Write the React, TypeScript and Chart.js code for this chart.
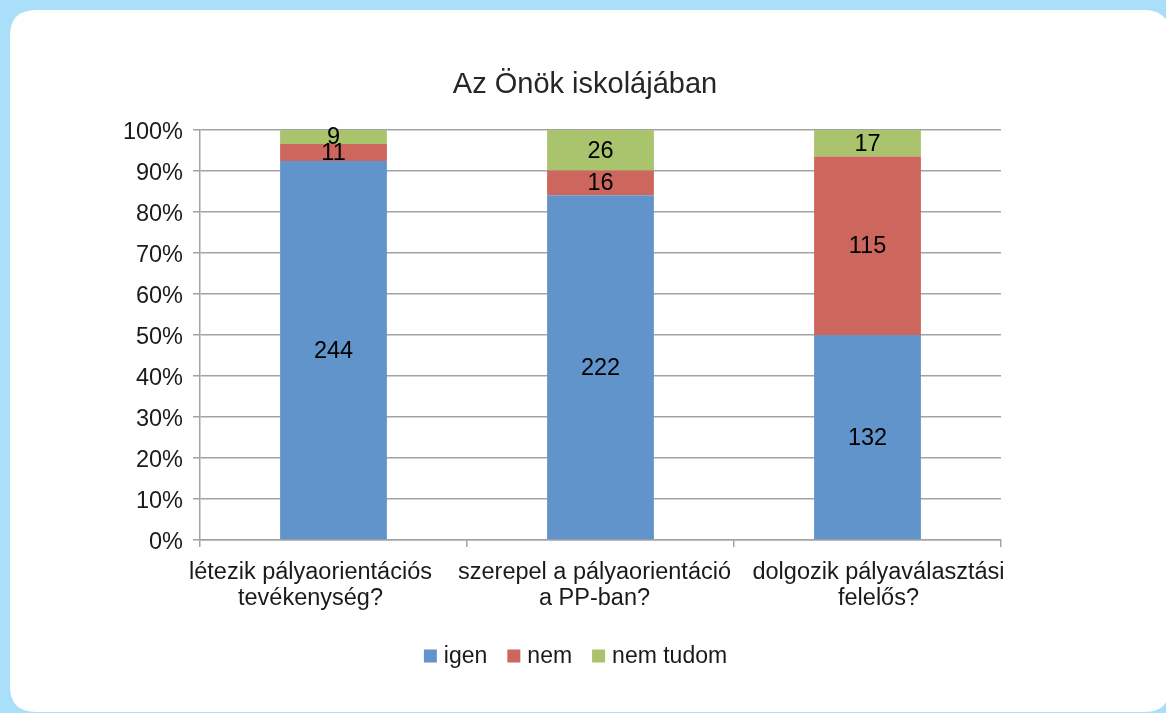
import React, { useEffect, useRef } from "react";
import { Chart, registerables } from "chart.js";

Chart.register(...registerables);

const title = "Az Önök iskolájában";
const categories: string[][] = [
  ["létezik pályaorientációs", "tevékenység?"],
  ["szerepel a pályaorientáció", "a PP-ban?"],
  ["dolgozik pályaválasztási", "felelős?"],
];
const seriesNames = ["igen", "nem", "nem tudom"];
const igen = [244, 222, 132];
const nem = [11, 16, 115];
const nemTudom = [9, 26, 17];
const seriesColors = ["#6194cb", "#cd675d", "#a9c46c"];
const yTickValues = [0, 10, 20, 30, 40, 50, 60, 70, 80, 90, 100];

const FONT = "'Liberation Sans', Arial, sans-serif";
const TEXT = "#1a1a1a";

const W = 1166;
const H = 713;

export default function App() {
  const ref = useRef<HTMLCanvasElement | null>(null);

  useEffect(() => {
    const canvas = ref.current;
    if (!canvas) return;
    const counts = [igen, nem, nemTudom];
    const totals = igen.map((_, i) => igen[i] + nem[i] + nemTudom[i]);
    const datasets = counts.map((arr, s) => ({
      label: seriesNames[s],
      data: arr.map((v, i) => (v / totals[i]) * 100),
      counts: arr,
      backgroundColor: seriesColors[s],
      borderWidth: 0,
      barPercentage: 0.4,
      categoryPercentage: 1,
    }));

    const bgPlugin = {
      id: "bgPanel",
      beforeDraw(chart: any) {
        const ctx = chart.ctx;
        ctx.save();
        ctx.fillStyle = "#a9dff9";
        ctx.fillRect(0, 0, W, H);
        ctx.fillStyle = "#ffffff";
        const x = 10, y = 10, w = 1170 - 10, h = 712 - 10, r = 26;
        ctx.beginPath();
        ctx.moveTo(x + r, y);
        ctx.lineTo(x + w - r, y);
        ctx.quadraticCurveTo(x + w, y, x + w, y + r);
        ctx.lineTo(x + w, y + h - r);
        ctx.quadraticCurveTo(x + w, y + h, x + w - r, y + h);
        ctx.lineTo(x + r, y + h);
        ctx.quadraticCurveTo(x, y + h, x, y + h - r);
        ctx.lineTo(x, y + r);
        ctx.quadraticCurveTo(x, y, x + r, y);
        ctx.closePath();
        ctx.fill();
        // title
        ctx.fillStyle = "#262626";
        ctx.font = `29px ${FONT}`;
        ctx.textAlign = "center";
        ctx.textBaseline = "alphabetic";
        ctx.fillText(title, 585, 93);
        ctx.restore();
      },
    };

    const labelPlugin = {
      id: "segLabels",
      afterDatasetsDraw(chart: any) {
        const ctx = chart.ctx;
        ctx.save();
        ctx.fillStyle = "#000000";
        ctx.font = `23.5px ${FONT}`;
        ctx.textAlign = "center";
        ctx.textBaseline = "middle";
        chart.data.datasets.forEach((ds: any, di: number) => {
          const meta = chart.getDatasetMeta(di);
          meta.data.forEach((el: any, i: number) => {
            const y = (el.y + el.base) / 2;
            ctx.fillText(String(ds.counts[i]), el.x, y + 1);
          });
        });
        ctx.restore();
      },
    };

    // category labels drawn at the x scale's own category positions,
    // nudged the way the original layout spreads them out
    const labelNudge = [-23, -6, 11];
    const xLabelPlugin = {
      id: "xLabels",
      afterDraw(chart: any) {
        const ctx = chart.ctx;
        const xs = chart.scales.x;
        ctx.save();
        ctx.fillStyle = TEXT;
        ctx.font = `23.5px ${FONT}`;
        ctx.textAlign = "center";
        ctx.textBaseline = "alphabetic";
        const base = xs.top + 39;
        categories.forEach((lines, i) => {
          const cx = xs.getPixelForValue(i) + labelNudge[i];
          lines.forEach((ln, j) => {
            ctx.fillText(ln, cx, base + j * 26);
          });
        });
        ctx.restore();
      },
    };

    const legendPlugin = {
      id: "customLegend",
      afterDraw(chart: any) {
        const ctx = chart.ctx;
        ctx.save();
        ctx.font = `23px ${FONT}`;
        const box = 13, gapBox = 7, gapItem = 20;
        const widths = seriesNames.map((n) => ctx.measureText(n).width);
        const total = widths.reduce((a, w) => a + box + gapBox + w, 0) + gapItem * (seriesNames.length - 1);
        let x = 575.5 - total / 2;
        const cy = 656;
        seriesNames.forEach((n, i) => {
          ctx.fillStyle = seriesColors[i];
          ctx.fillRect(x, cy - box / 2, box, box);
          x += box + gapBox;
          ctx.fillStyle = TEXT;
          ctx.textAlign = "left";
          ctx.textBaseline = "middle";
          ctx.fillText(n, x, cy + 1);
          x += widths[i] + gapItem;
        });
        ctx.restore();
      },
    };

    const chart = new Chart(canvas, {
      type: "bar",
      data: { labels: categories as any, datasets: datasets as any },
      options: {
        animation: false,
        responsive: false,
        devicePixelRatio: 1,
        layout: { padding: { left: 100, right: 165, top: 130, bottom: 0 } },
        plugins: {
          legend: { display: false },
          title: { display: false },
          tooltip: { enabled: false },
        },
        scales: {
          x: {
            stacked: true,
            offset: true,
            grid: {
              display: true,
              offset: true,
              drawOnChartArea: false,
              drawTicks: true,
              tickLength: 7,
              color: "#a3a3a3",
              lineWidth: 1.5,
            },
            border: { display: true, color: "#a3a3a3", width: 1.5 },
            ticks: {
              display: false,
              autoSkip: false,
            },
            afterFit(scale: any) {
              scale.height = 173;
            },
          },
          y: {
            stacked: true,
            min: 0,
            max: 100,
            afterBuildTicks(scale: any) {
              scale.ticks = yTickValues.map((v) => ({ value: v }));
            },
            ticks: {
              stepSize: 10,
              color: TEXT,
              font: { family: FONT, size: 23.5 },
              padding: 10,
              labelOffset: 3,
              callback: (v: any) => `${v}%`,
            },
            grid: {
              color: "#a3a3a3",
              lineWidth: 1.5,
              tickLength: 7,
              drawTicks: true,
            },
            border: { display: true, color: "#a3a3a3", width: 1.5 },
            afterFit(scale: any) {
              scale.width = 100;
            },
          },
        },
      },
      plugins: [bgPlugin, labelPlugin, xLabelPlugin, legendPlugin],
    } as any);

    return () => chart.destroy();
  }, []);

  return (
    <div style={{ position: "fixed", left: 0, top: 0, width: W, height: H }}>
      <canvas ref={ref} width={W} height={H} style={{ width: W, height: H, display: "block" }} />
    </div>
  );
}
